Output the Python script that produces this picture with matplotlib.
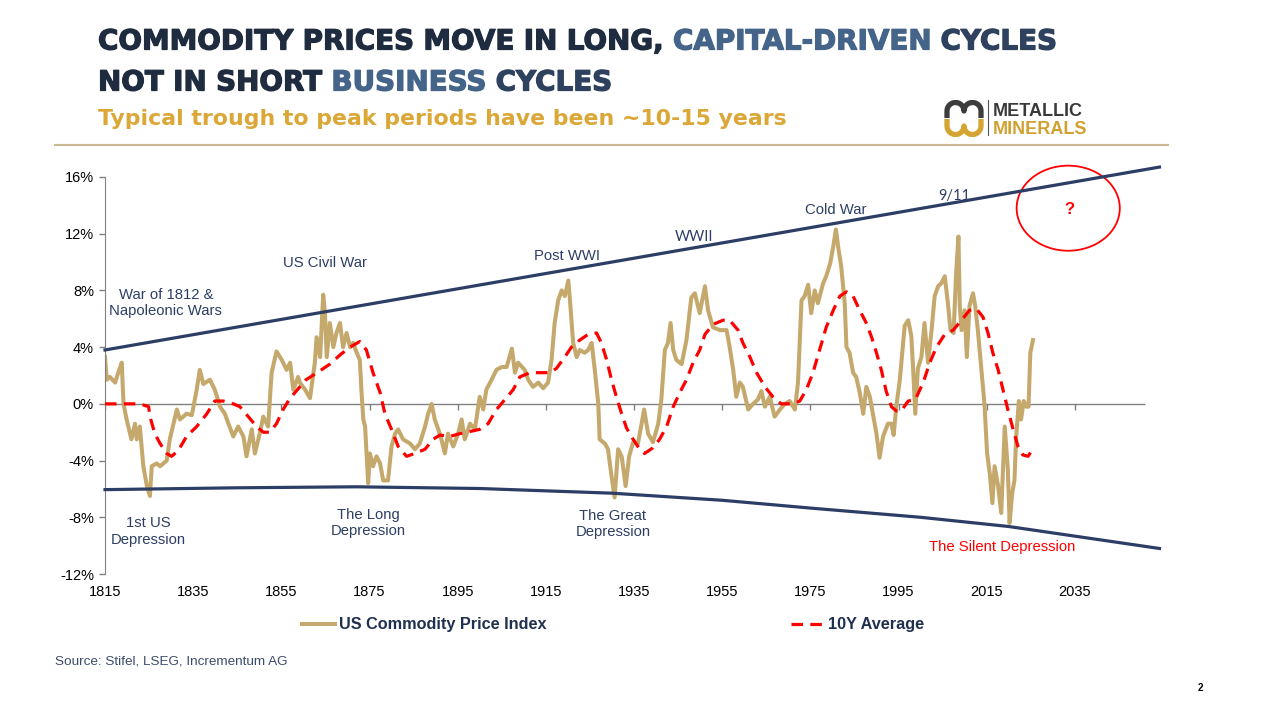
import numpy as np
import matplotlib
matplotlib.use('Agg')
import matplotlib.pyplot as plt
import matplotlib.patheffects as pe
from matplotlib.patches import Ellipse
from matplotlib.lines import Line2D

# US commodity price index, % deviation
index_years = [
    1815.0, 1815.4, 1816.1, 1817.3, 1818.0, 1818.8, 1819.2, 1819.9, 1821.0, 1821.8,
    1822.2, 1822.9, 1823.7, 1824.5, 1825.2, 1825.6, 1826.7, 1827.5, 1829.0, 1829.7,
    1831.3, 1832.0, 1833.5, 1834.7, 1835.8, 1836.5, 1837.3, 1838.8, 1839.9, 1841.1,
    1842.2, 1843.0, 1844.1, 1845.2, 1846.4, 1847.1, 1848.3, 1849.0, 1850.1, 1850.9,
    1852.0, 1852.8, 1853.9, 1855.1, 1856.2, 1857.0, 1857.7, 1858.8, 1859.2, 1860.4,
    1861.5, 1862.6, 1863.0, 1863.8, 1864.5, 1864.9, 1865.3, 1866.0, 1866.8, 1867.5,
    1868.3, 1869.0, 1869.8, 1870.6, 1871.3, 1872.1, 1872.8, 1873.2, 1873.6, 1874.0,
    1874.7, 1875.1, 1875.8, 1876.6, 1877.4, 1878.1, 1879.2, 1880.0, 1880.8, 1881.5,
    1882.6, 1884.2, 1885.3, 1886.4, 1887.6, 1888.3, 1889.1, 1889.8, 1890.6, 1891.3,
    1892.1, 1892.8, 1894.0, 1895.1, 1895.9, 1896.6, 1897.8, 1898.9, 1900.0, 1900.8,
    1901.5, 1902.7, 1903.8, 1905.0, 1906.1, 1907.3, 1908.0, 1908.7, 1910.2, 1911.0,
    1912.1, 1913.3, 1914.4, 1915.5, 1916.3, 1917.0, 1917.8, 1918.6, 1919.3, 1920.1,
    1920.4, 1921.2, 1922.0, 1922.7, 1923.8, 1924.6, 1925.4, 1926.1, 1926.9, 1927.2,
    1928.4, 1929.1, 1929.9, 1930.6, 1931.4, 1932.2, 1933.1, 1933.9, 1934.8, 1935.9,
    1937.3, 1938.2, 1939.3, 1940.5, 1941.2, 1942.0, 1942.7, 1943.3, 1943.9, 1944.6,
    1945.8, 1946.9, 1948.0, 1948.8, 1949.9, 1951.1, 1951.8, 1952.9, 1954.5, 1956.0,
    1956.7, 1957.5, 1958.2, 1959.0, 1959.7, 1960.9, 1962.0, 1963.1, 1963.9, 1964.7,
    1965.8, 1966.9, 1968.1, 1969.2, 1970.3, 1971.5, 1972.2, 1973.0, 1973.7, 1974.5,
    1975.2, 1976.0, 1976.7, 1977.9, 1978.6, 1979.5, 1980.2, 1980.8, 1981.3, 1982.0,
    1982.8, 1983.2, 1983.9, 1984.7, 1985.4, 1986.2, 1987.0, 1987.7, 1988.5, 1989.2,
    1990.0, 1990.7, 1991.5, 1992.6, 1993.4, 1993.9, 1994.5, 1995.3, 1996.4, 1997.2,
    1997.9, 1998.3, 1998.8, 1999.4, 2000.2, 2000.9, 2001.7, 2002.5, 2003.2, 2004.0,
    2004.7, 2005.5, 2006.2, 2006.8, 2007.5, 2008.1, 2008.6, 2008.9, 2009.3, 2010.0,
    2010.5, 2011.1, 2011.9, 2012.4, 2013.0, 2013.8, 2014.5, 2015.1, 2015.7, 2016.3,
    2016.8, 2017.6, 2018.3, 2019.1, 2019.8, 2020.2, 2020.8, 2021.3, 2021.7, 2022.3,
    2022.8, 2023.4, 2024.0, 2024.5, 2024.9, 2025.5,
]
index_values = [
    3.3, 1.7, 1.9, 1.5, 2.2, 2.9, 0.0, -1.1, -2.5, -1.4,
    -2.5, -1.6, -4.4, -5.8, -6.5, -4.4, -4.2, -4.4, -4.0, -2.5,
    -0.4, -1.1, -0.7, -0.8, 1.0, 2.4, 1.4, 1.7, 1.0, -0.2,
    -0.7, -1.4, -2.3, -1.6, -2.3, -3.7, -1.8, -3.5, -2.1, -0.9,
    -1.6, 2.2, 3.7, 3.1, 2.4, 2.9, 1.0, 1.9, 1.5, 1.0,
    0.4, 2.9, 4.7, 3.3, 7.7, 6.4, 3.3, 5.7, 4.0, 5.0,
    5.7, 4.0, 5.0, 4.0, 4.3, 3.6, 3.1, 0.8, -1.1, -1.6,
    -5.6, -3.5, -4.4, -3.7, -4.2, -5.4, -5.4, -3.0, -2.1, -1.8,
    -2.5, -2.8, -3.2, -2.8, -1.6, -0.7, 0.0, -1.1, -1.8, -2.5,
    -3.5, -2.1, -3.0, -2.1, -1.1, -2.5, -1.4, -1.8, 0.5, -0.4,
    1.0, 1.7, 2.4, 2.6, 2.6, 3.9, 2.2, 2.9, 2.4, 1.7,
    1.2, 1.5, 1.1, 1.5, 3.1, 5.7, 7.3, 8.0, 7.6, 8.7,
    7.6, 4.3, 3.3, 3.8, 3.6, 3.8, 4.3, 2.4, 0.0, -2.5,
    -2.8, -3.2, -5.1, -6.6, -3.2, -3.7, -5.8, -3.7, -2.7, -2.8,
    -0.4, -2.1, -2.7, -1.4, 0.3, 3.8, 4.3, 5.7, 3.8, 3.1,
    2.8, 4.5, 7.5, 7.8, 6.4, 8.3, 6.6, 5.4, 5.2, 5.2,
    4.0, 2.4, 0.5, 1.5, 1.2, -0.4, 0.0, 0.3, 0.9, -0.2,
    0.5, -0.9, -0.4, 0.0, 0.2, -0.4, 1.5, 7.3, 7.6, 8.4,
    6.4, 8.0, 7.1, 8.5, 9.0, 9.9, 11.1, 12.3, 11.1, 9.7,
    7.1, 4.0, 3.6, 2.2, 1.9, 0.8, -0.7, 1.2, 0.5, -0.7,
    -2.1, -3.8, -2.3, -1.4, -1.4, -2.2, -0.2, 1.7, 5.5, 5.9,
    4.8, 2.6, -0.7, 2.5, 3.3, 5.7, 2.9, 5.2, 7.6, 8.3,
    8.5, 9.0, 7.1, 5.2, 5.0, 9.4, 11.8, 6.9, 5.2, 6.6,
    3.3, 6.9, 7.8, 6.9, 5.2, 2.4, 0.0, -3.5, -4.9, -7.0,
    -4.4, -5.8, -7.7, -1.6, -4.6, -8.4, -6.3, -5.4, -2.3, 0.2,
    -1.1, 0.2, -0.2, -0.2, 3.6, 4.5,
]

# 10Y average
avg_years = [
    1815.0, 1822.9, 1824.9, 1825.2, 1826.3, 1827.5, 1829.0, 1830.1, 1831.6, 1833.5,
    1835.8, 1838.1, 1839.9, 1841.8, 1844.1, 1845.6, 1847.5, 1849.4, 1850.9, 1852.4,
    1853.9, 1855.4, 1857.0, 1859.2, 1860.6, 1863.6, 1866.0, 1868.5, 1870.6, 1872.8,
    1874.3, 1875.8, 1877.4, 1878.5, 1880.0, 1881.5, 1883.4, 1885.3, 1887.6, 1889.4,
    1891.0, 1893.2, 1895.5, 1897.8, 1900.0, 1901.9, 1903.8, 1905.7, 1907.6, 1909.1,
    1911.4, 1913.6, 1915.9, 1917.4, 1919.3, 1920.8, 1922.7, 1924.6, 1926.5, 1927.6,
    1928.8, 1929.9, 1931.0, 1932.2, 1933.3, 1934.8, 1936.3, 1937.4, 1939.3, 1940.8,
    1942.4, 1943.9, 1945.4, 1946.9, 1948.4, 1949.9, 1951.1, 1952.9, 1955.2, 1956.7,
    1958.6, 1959.7, 1961.3, 1962.8, 1964.7, 1966.5, 1968.4, 1971.1, 1972.6, 1974.1,
    1975.6, 1977.1, 1978.6, 1980.2, 1981.7, 1983.2, 1984.7, 1986.2, 1987.7, 1988.9,
    1990.0, 1991.1, 1992.2, 1993.4, 1994.5, 1995.6, 1997.2, 1998.8, 2000.6, 2002.1,
    2003.6, 2005.5, 2007.4, 2009.3, 2011.1, 2012.7, 2014.2, 2015.3, 2016.4, 2017.6,
    2018.7, 2019.8, 2021.0, 2022.1, 2023.2, 2024.4, 2025.4,
]
avg_values = [
    0.0, 0.0, -0.2, -0.9, -2.1, -2.8, -3.5, -3.7, -3.3, -2.3,
    -1.6, -0.7, 0.2, 0.2, 0.0, -0.2, -0.9, -1.6, -2.0, -2.0,
    -1.4, -0.4, 0.4, 1.2, 1.7, 2.3, 2.8, 3.5, 4.0, 4.4,
    3.8, 2.2, 0.8, -0.7, -1.8, -3.0, -3.7, -3.5, -3.2, -2.5,
    -2.2, -2.3, -2.1, -1.95, -1.8, -1.4, -0.4, 0.3, 1.0, 1.9,
    2.2, 2.2, 2.2, 2.5, 3.3, 4.0, 4.5, 4.9, 5.0, 4.3,
    3.1, 1.7, 0.5, -0.7, -1.7, -2.5, -3.2, -3.5, -3.1, -2.5,
    -1.6, -0.2, 0.8, 1.7, 2.9, 3.8, 4.9, 5.6, 5.9, 5.9,
    5.2, 4.3, 3.3, 2.2, 1.2, 0.5, 0.0, 0.0, 0.2, 1.0,
    2.2, 3.8, 5.4, 6.6, 7.6, 7.9, 7.6, 6.6, 5.7, 4.7,
    3.6, 2.4, 0.9, -0.2, -0.5, -0.5, 0.2, 0.3, 1.5, 2.9,
    4.0, 4.9, 5.2, 5.9, 6.6, 6.7, 6.1, 5.0, 3.6, 2.4,
    1.0, -0.4, -1.8, -3.0, -3.6, -3.7, -3.2,
]

# channel lines
upper_years = [1815.0, 2054.2]
upper_values = [3.8, 16.7]
lower_years = [1815, 1845, 1872, 1900, 1930, 1955, 1975, 2000, 2020, 2054.2]
lower_values = [-6.05, -5.92, -5.85, -5.97, -6.3, -6.8, -7.35, -8.0, -8.65, -10.2]

# annotations: (text, year, value)
notes = [
    ('War of 1812 &\nNapoleonic Wars', 1828.8, 7.1),
    ('US Civil War', 1864.8, 9.9),
    ('Post WWI', 1919.9, 10.4),
    ('Cold War', 1980.7, 13.7),
    ('1st US\nDepression', 1824.9, -9.0),
    ('The Long\nDepression', 1874.7, -8.4),
    ('The Great\nDepression', 1930.2, -8.5),
]
notes_alt = [('WWII', 1948.7, 11.75), ('9/11', 2007.7, 14.65)]

x_ticks = list(range(1815, 2036, 20))
y_ticks = [-12, -8, -4, 0, 4, 8, 12, 16]

GOLD = '#c4a86c'
NAVY = '#2d3e66'
RED = '#ff0000'

plt.rcParams['font.family'] = ['Liberation Sans', 'DejaVu Sans']

W, H = 1261, 707
fig = plt.figure(figsize=(W / 100, H / 100), dpi=100)


def fx(px):
    return px / W


def fy(py):
    return 1 - py / H


ax = fig.add_axes([fx(105), fy(574), fx(1163) - fx(105), fy(177) - fy(574)])
ax.set_xlim(1815, 2055)
ax.set_ylim(-12, 16)

# channel
ax.plot(upper_years, upper_values, color=NAVY, lw=2.3, zorder=4, clip_on=False)
ax.plot(lower_years, lower_values, color=NAVY, lw=2.3, zorder=4, clip_on=False)

# zero line with its own tick marks
ax.hlines(0, 1815, 2050.9, color='#808080', lw=1.0, zorder=1)
ax.plot(x_ticks, np.zeros(len(x_ticks)), ls='none', marker=3, ms=4, mew=1.0,
        color='#808080', zorder=1)

line_idx, = ax.plot(index_years, index_values, color=GOLD, lw=2.9, zorder=2,
                    solid_joinstyle='round')
line_avg, = ax.plot(avg_years, avg_values, color=RED, lw=2.3, zorder=3,
                    ls=(0, (3.6, 2.3)))

ax.set_xticks(x_ticks)
ax.set_yticks(y_ticks)
ax.set_yticklabels([f'{v}%' for v in y_ticks])
ax.tick_params(axis='x', length=0, pad=8, labelsize=10.5)
ax.tick_params(axis='y', length=4, width=1, color='#808080', pad=4, labelsize=10.5)
for s in ['top', 'right', 'bottom']:
    ax.spines[s].set_visible(False)
ax.spines['left'].set_color('#808080')

for txt, xv, yv in notes:
    ax.text(xv, yv, txt, ha='center', va='center', fontsize=10.7, color=NAVY,
            linespacing=1.2)
for txt, xv, yv in notes_alt:
    ax.text(xv, yv, txt, ha='center', va='center', fontsize=10.5, color=NAVY,
            family='Lato')
ax.text(2018.6, -10.13, 'The Silent Depression', ha='center', va='center',
        fontsize=10.7, color=RED)

# the open question mark
ax.add_patch(Ellipse((2033.5, 13.8), 23.4, 6.0, fill=False, edgecolor=RED,
                     lw=1.3, clip_on=False))
ax.text(2033.7, 13.7, '?', ha='center', va='center', fontsize=12,
        weight='bold', color=RED)

# title lines, coloured in parts
renderer = fig.canvas.get_renderer()


def width_px(s, **kw):
    t = fig.text(0, 0, s, **kw)
    w = t.get_window_extent(renderer).width
    t.remove()
    return w


def draw_parts(x_px, base_px, parts, **kw):
    space = width_px('I I', **kw) - width_px('II', **kw)
    x = x_px
    for s, c in parts:
        fig.text(fx(x), fy(base_px), s, color=c, va='baseline',
                 path_effects=[pe.withStroke(linewidth=0.9, foreground=c)], **kw)
        x += width_px(s, **kw) + space


DARK = '#1f2c40'
BLUE = '#44648a'
MID = '#2e4260'
title_kw = dict(fontsize=20.0, weight='bold', family='DejaVu Sans')
draw_parts(98, 49.5, [('COMMODITY', DARK), ('PRICES', DARK), ('MOVE', DARK),
                      ('IN', DARK), ('LONG,', DARK), ('CAPITAL-DRIVEN', BLUE),
                      ('CYCLES', MID)], **title_kw)
draw_parts(98, 90.5, [('NOT', DARK), ('IN', DARK), ('SHORT', DARK),
                      ('BUSINESS', BLUE), ('CYCLES', MID)], **title_kw)
fig.text(fx(98), fy(125), 'Typical trough to peak periods have been ~10-15 years',
         va='baseline', fontsize=15.8, weight='bold', family='DejaVu Sans',
         color='#dba737')

fig.add_artist(Line2D([fx(55), fx(1168)], [fy(145), fy(145)], color='#cbb994', lw=1.5))

# logo
lax = fig.add_axes([fx(943), fy(137), fx(42), 37 / H])
lax.set_xlim(0, 42)
lax.set_ylim(0, 37)
lax.axis('off')
a = np.linspace(np.pi, 0, 30)
top_x = np.concatenate([[4], 12.5 + 8.5 * np.cos(a), 29.5 + 8.5 * np.cos(a), [38]])
top_y = np.concatenate([[19], 26 + 8.5 * np.sin(a), 26 + 8.5 * np.sin(a), [19]])
lax.plot(top_x, top_y, color='#3d3d3d', lw=3.8, solid_capstyle='butt')
lax.plot(top_x, 37 - top_y, color='#d4a532', lw=3.8, solid_capstyle='butt')
fig.add_artist(Line2D([fx(988), fx(988)], [fy(100), fy(135)], color='#555555', lw=0.8))
fig.text(fx(993), fy(115.5), 'METALLIC', fontsize=13, weight='bold',
         color='#3a3a3a', va='baseline')
fig.text(fx(993), fy(133.5), 'MINERALS', fontsize=13, weight='bold',
         color='#d1a12f', va='baseline')

# legend
fig.legend([line_idx, line_avg], ['US Commodity Price Index', '10Y Average'],
           loc='center left', bbox_to_anchor=(fx(302), fy(625)), ncol=2,
           frameon=False, handlelength=2.0, handletextpad=0.3, columnspacing=15,
           borderpad=0, borderaxespad=0, labelcolor='#1f3050',
           prop={'weight': 'bold', 'size': 11.7})

fig.text(fx(55), fy(662), 'Source: Stifel, LSEG, Incrementum AG', va='center',
         fontsize=9.7, color='#3c4c6e')
fig.text(fx(1200), fy(688), '2', va='center', ha='center', fontsize=7,
         weight='bold', color='black')

fig.savefig('out.png', dpi=100)
